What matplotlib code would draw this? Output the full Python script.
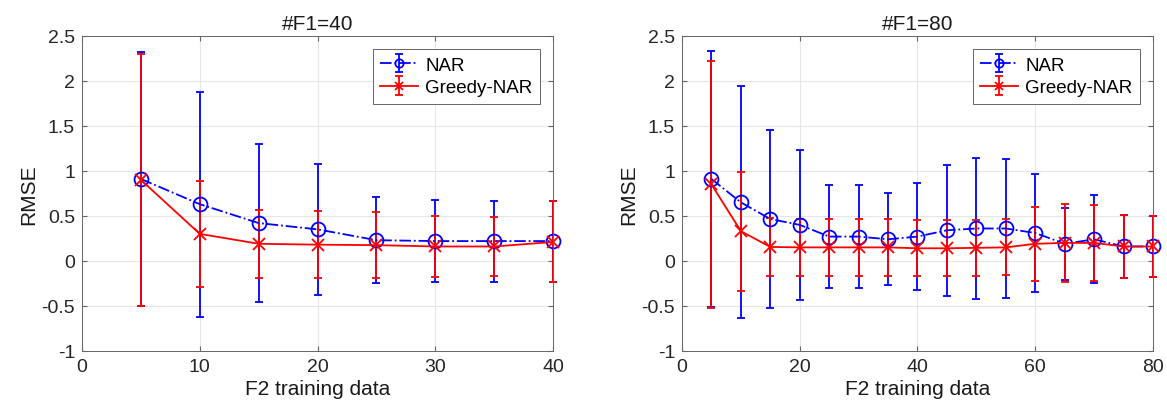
import matplotlib
matplotlib.use('Agg')
import matplotlib.pyplot as plt
import numpy as np

plt.rcParams['font.family'] = ['Liberation Sans', 'DejaVu Sans']

# #F1=40
x40 = [5, 10, 15, 20, 25, 30, 35, 40]
nar40 = [0.91, 0.63, 0.42, 0.35, 0.23, 0.22, 0.22, 0.22]
nar40_err = [1.41, 1.25, 0.88, 0.73, 0.48, 0.46, 0.45, 0.45]
greedy40 = [0.90, 0.30, 0.19, 0.18, 0.175, 0.16, 0.16, 0.21]
greedy40_err = [1.40, 0.59, 0.38, 0.37, 0.37, 0.34, 0.33, 0.45]

# #F1=80
x80 = [5, 10, 15, 20, 25, 30, 35, 40, 45, 50, 55, 60, 65, 70, 75, 80]
nar80 = [0.91, 0.65, 0.465, 0.40, 0.27, 0.27, 0.24, 0.27, 0.34, 0.36, 0.36, 0.31, 0.19, 0.24, 0.16, 0.16]
nar80_err = [1.42, 1.29, 0.99, 0.83, 0.57, 0.57, 0.51, 0.59, 0.73, 0.78, 0.77, 0.66, 0.40, 0.49, 0.35, 0.34]
greedy80 = [0.85, 0.33, 0.155, 0.15, 0.15, 0.15, 0.15, 0.14, 0.14, 0.145, 0.15, 0.19, 0.20, 0.20, 0.16, 0.16]
greedy80_err = [1.37, 0.66, 0.32, 0.32, 0.32, 0.32, 0.32, 0.31, 0.31, 0.31, 0.31, 0.41, 0.43, 0.42, 0.35, 0.34]

panels = [
    ('#F1=40', x40, nar40, nar40_err, greedy40, greedy40_err, [0, 10, 20, 30, 40], 40),
    ('#F1=80', x80, nar80, nar80_err, greedy80, greedy80_err, [0, 20, 40, 60, 80], 80),
]

fig = plt.figure(figsize=(11.67, 4.14), dpi=100)
lefts = [0.0703, 0.5844]

for left, (title, x, nar, nar_err, gr, gr_err, xt, xmax) in zip(lefts, panels):
    ax = fig.add_axes([left, 0.150, 0.4036, 0.761])
    l1 = ax.errorbar(x, nar, yerr=nar_err, color='blue', ls='-.', marker='o', ms=10,
                     mfc='none', mew=1.3, lw=1.3, capsize=3, elinewidth=1.3, capthick=1.3,
                     label='NAR')
    l2 = ax.errorbar(x, gr, yerr=gr_err, color='red', ls='-', marker='x', ms=9,
                     mew=1.3, lw=1.3, capsize=3, elinewidth=1.3, capthick=1.3,
                     label='Greedy-NAR')
    for c in (l1, l2):
        for art in c.get_children():
            art.set_clip_on(False)
    ax.set_xlim(0, xmax)
    ax.set_ylim(-1, 2.5)
    ax.set_xticks(xt)
    ax.set_yticks(np.arange(-1, 2.51, 0.5))
    ax.set_yticklabels(['-1', '-0.5', '0', '0.5', '1', '1.5', '2', '2.5'])
    ax.grid(True, color='#e6e6e6', lw=0.8)
    ax.set_axisbelow(True)
    ax.tick_params(direction='in', labelsize=14, top=True, right=True, color='#666666',
                   labelcolor='#262626', pad=5)
    for s in ax.spines.values():
        s.set_color('#666666')
        s.set_linewidth(0.7)
    ax.set_title(title, fontsize=15, pad=5, color='#1a1a1a')
    ax.set_xlabel('F2 training data', fontsize=15, color='#1a1a1a', labelpad=3)
    ax.set_ylabel('RMSE', fontsize=15, color='#1a1a1a', labelpad=2)
    leg = ax.legend(loc='upper right', fontsize=13.5, fancybox=False, framealpha=1,
                    edgecolor='#666666', handlelength=2.0, borderaxespad=0.7,
                    handletextpad=0.4, borderpad=0.4, labelspacing=0.3, markerscale=0.6)
    leg.get_frame().set_linewidth(0.7)

fig.savefig('out.png', dpi=100)
